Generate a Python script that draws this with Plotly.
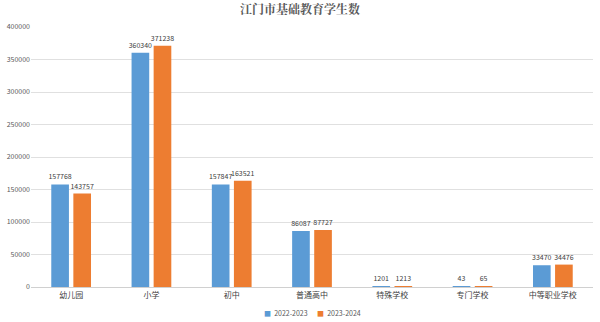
import plotly.graph_objects as go

categories = ["幼儿园", "小学", "初中", "普通高中", "特殊学校", "专门学校", "中等职业学校"]
series_names = ["2022-2023", "2023-2024"]
values_2022 = [157768, 360340, 157847, 86087, 1201, 43, 33470]
values_2023 = [143757, 371238, 163521, 87727, 1213, 65, 34476]
colors = ["#5B9BD5", "#ED7D31"]

font_family = "Noto Sans CJK SC, Noto Sans, sans-serif"

fig = go.Figure()
for name, vals, col in zip(series_names, [values_2022, values_2023], colors):
    fig.add_trace(go.Bar(
        x=categories, y=vals, name=name,
        marker=dict(color=col, line=dict(width=0)),
        text=[str(v) for v in vals], textposition="outside",
        textfont=dict(size=7, color="#404040", family=font_family),
        constraintext="none",
        cliponaxis=False,
    ))

legend_text = "      ".join(
    f"<span style='color:{c}'>■</span>  {n}" for n, c in zip(series_names, colors)
)

fig.update_layout(
    width=600, height=322,
    margin=dict(l=31, r=7, t=27, b=35),
    paper_bgcolor="white", plot_bgcolor="white",
    barmode="group", bargap=0.45, bargroupgap=0.2,
    title=dict(text="<b>江门市基础教育学生数</b>", x=0.5, xanchor="center", y=0.97, yanchor="middle",
               font=dict(size=12, color="#595959", family="Noto Serif CJK SC, Noto Sans CJK SC, serif")),
    font=dict(family=font_family, size=7, color="#595959"),
    showlegend=False,
    annotations=[dict(text=legend_text, xref="paper", yref="paper", x=0.5, y=-0.1,
                      xanchor="center", yanchor="middle", showarrow=False,
                      font=dict(size=7, color="#595959", family=font_family))],
    yaxis=dict(range=[0, 400000], dtick=50000, showgrid=True, gridcolor="#E0E0E0", gridwidth=1,
               zeroline=False, showline=False, tickfont=dict(size=7, color="#595959"),
               tickformat="d", ticks=""),
    xaxis=dict(showline=True, linecolor="#D0D0D0", linewidth=1, tickfont=dict(size=8, color="#404040"),
               ticks=""),
)

fig.write_html("out.html")
